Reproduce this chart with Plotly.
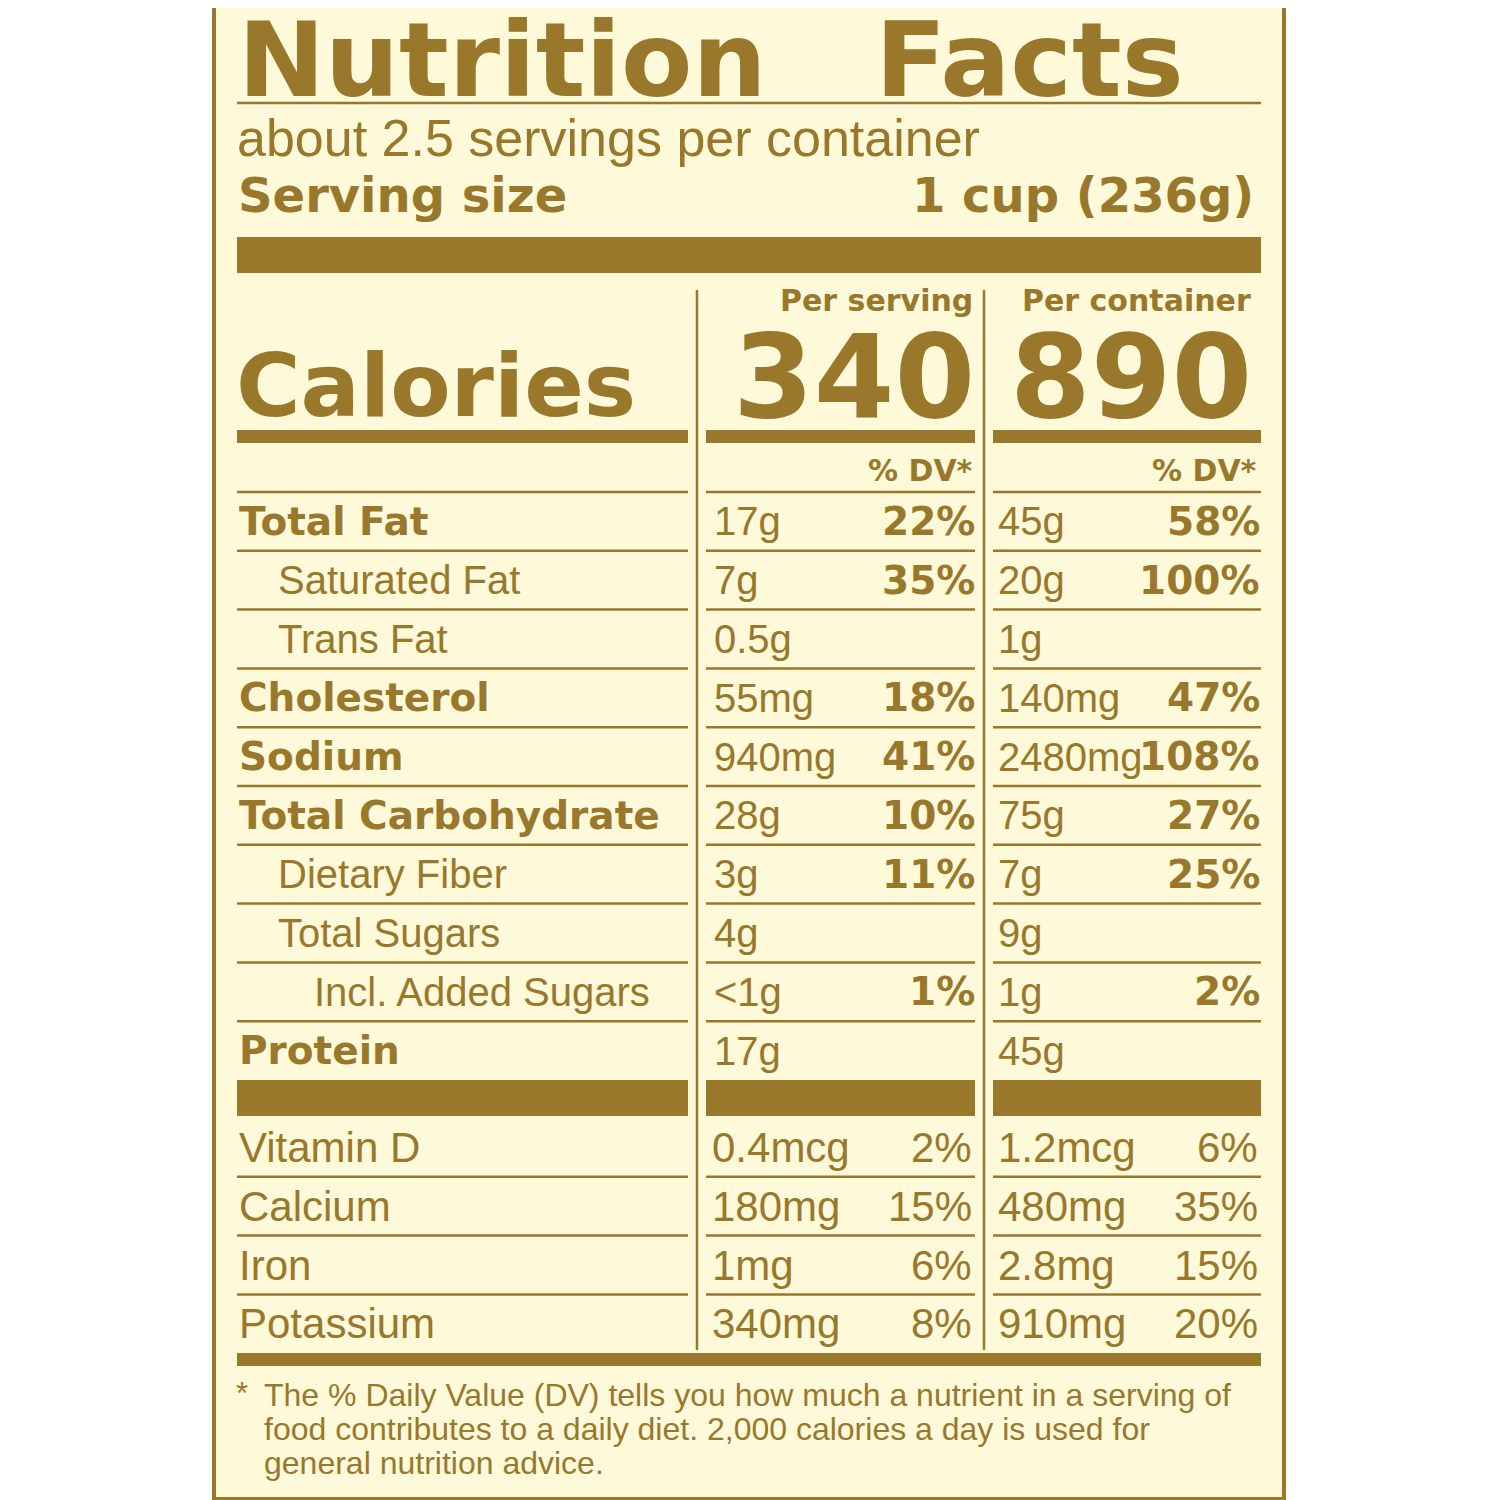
import plotly.graph_objects as go

GOLD = "#99782C"
CREAM = "#FEF9D9"

labels = ["Total Fat", "Saturated Fat", "Trans Fat", "Cholesterol", "Sodium",
          "Total Carbohydrate", "Dietary Fiber", "Total Sugars", "Incl. Added Sugars", "Protein"]
indent = [0, 1, 1, 0, 0, 0, 1, 1, 2, 0]
bold = [1, 0, 0, 1, 1, 1, 0, 0, 0, 1]
serv_amt = ["17g", "7g", "0.5g", "55mg", "940mg", "28g", "3g", "4g", "<1g", "17g"]
serv_dv = ["22%", "35%", "", "18%", "41%", "10%", "11%", "", "1%", ""]
cont_amt = ["45g", "20g", "1g", "140mg", "2480mg", "75g", "7g", "9g", "1g", "45g"]
cont_dv = ["58%", "100%", "", "47%", "108%", "27%", "25%", "", "2%", ""]

vit_labels = ["Vitamin D", "Calcium", "Iron", "Potassium"]
vit_serv_amt = ["0.4mcg", "180mg", "1mg", "340mg"]
vit_serv_dv = ["2%", "15%", "6%", "8%"]
vit_cont_amt = ["1.2mcg", "480mg", "2.8mg", "910mg"]
vit_cont_dv = ["6%", "35%", "15%", "20%"]

cal_serv, cal_cont = "340", "890"

fig = go.Figure()
shapes, ann = [], []
FONT = "Liberation Sans"
BFONT = "DejaVu Sans"

def txt(x, y, s, size, b=False, anchor="left", family=None):
    fam = family or (BFONT if b else FONT)
    ann.append(dict(x=x, y=y, text=f"<b>{s}</b>" if b else s, xref="x", yref="y",
                    xanchor=anchor, yanchor="middle", showarrow=False,
                    font=dict(family=fam, size=size, color=GOLD)))

def rect(x0, y0, x1, y1, fill=GOLD, line=None):
    shapes.append(dict(type="rect", xref="x", yref="y", x0=x0, x1=x1, y0=y0, y1=y1,
                       fillcolor=fill, line=dict(width=0) if line is None else line, layer="below"))

def hline(x0, x1, y, w=2.5):
    shapes.append(dict(type="line", xref="x", yref="y", x0=x0, x1=x1, y0=y, y1=y,
                       line=dict(color=GOLD, width=w)))

rect(214, 1, 1284, 1499, fill=CREAM, line=dict(color=GOLD, width=4))

cols = [(237, 688), (706, 975), (993, 1261)]
txt(236, 60, "Nutrition&nbsp;&nbsp;&nbsp;Facts", 104, True)
hline(237, 1261, 103)
txt(235, 138, "about 2.5 servings per container", 52)
txt(236, 195, "Serving size", 48, True)
txt(1256, 195, "1 cup (236g)", 48, True, "right")
rect(237, 237, 1261, 273)

txt(975, 300, "Per serving", 30, True, "right")
txt(1253, 300, "Per container", 30, True, "right")
txt(234, 385, "Calories", 88, True)
txt(977, 376, cal_serv, 116, True, "right")
txt(1254, 376, cal_cont, 116, True, "right")
for a, b in cols:
    rect(a, 430, b, 443)
txt(975, 470, "% DV*", 30, True, "right")
txt(1259, 470, "% DV*", 30, True, "right")
for a, b in cols[1:]:
    hline(a, b, 492)
hline(237, 688, 492)

top, step = 492, 58.8
for i, lab in enumerate(labels):
    yc = top + step * (i + 0.5)
    txt(237 + [0, 39, 75][indent[i]], yc, lab, 40 if not bold[i] else 39, bool(bold[i]))
    txt(712, yc, serv_amt[i], 40)
    txt(977, yc, serv_dv[i], 39, True, "right")
    txt(996, yc, cont_amt[i], 40)
    txt(1262, yc, cont_dv[i], 39, True, "right")
    if i < len(labels) - 1:
        for a, b in cols:
            hline(a, b, top + step * (i + 1))

for a, b in cols:
    rect(a, 1080, b, 1116)

vtop = 1118
for i, lab in enumerate(vit_labels):
    yc = vtop + step * (i + 0.5)
    txt(237, yc, lab, 42)
    txt(710, yc, vit_serv_amt[i], 42)
    txt(974, yc, vit_serv_dv[i], 42, False, "right")
    txt(996, yc, vit_cont_amt[i], 42)
    txt(1260, yc, vit_cont_dv[i], 42, False, "right")
    if i < len(vit_labels) - 1:
        for a, b in cols:
            hline(a, b, vtop + step * (i + 1))

for x in (697, 984):
    shapes.append(dict(type="line", xref="x", yref="y", x0=x, x1=x, y0=290, y1=1350,
                       line=dict(color=GOLD, width=2.5)))
rect(237, 1353, 1261, 1366)

txt(234, 1393, "*", 31)
foot = ["The % Daily Value (DV) tells you how much a nutrient in a serving of",
        "food contributes to a daily diet. 2,000 calories a day is used for",
        "general nutrition advice."]
for i, s in enumerate(foot):
    txt(262, 1395 + 34 * i, s, 32)

fig.update_layout(width=1500, height=1500, margin=dict(l=0, r=0, t=0, b=0),
                  paper_bgcolor="white", plot_bgcolor="white",
                  xaxis=dict(range=[8, 1508], visible=False, fixedrange=True),
                  yaxis=dict(range=[1508, 8], visible=False, fixedrange=True),
                  shapes=shapes, annotations=ann, showlegend=False)
fig.add_trace(go.Scatter(x=[], y=[]))
fig.write_html("out.html")
